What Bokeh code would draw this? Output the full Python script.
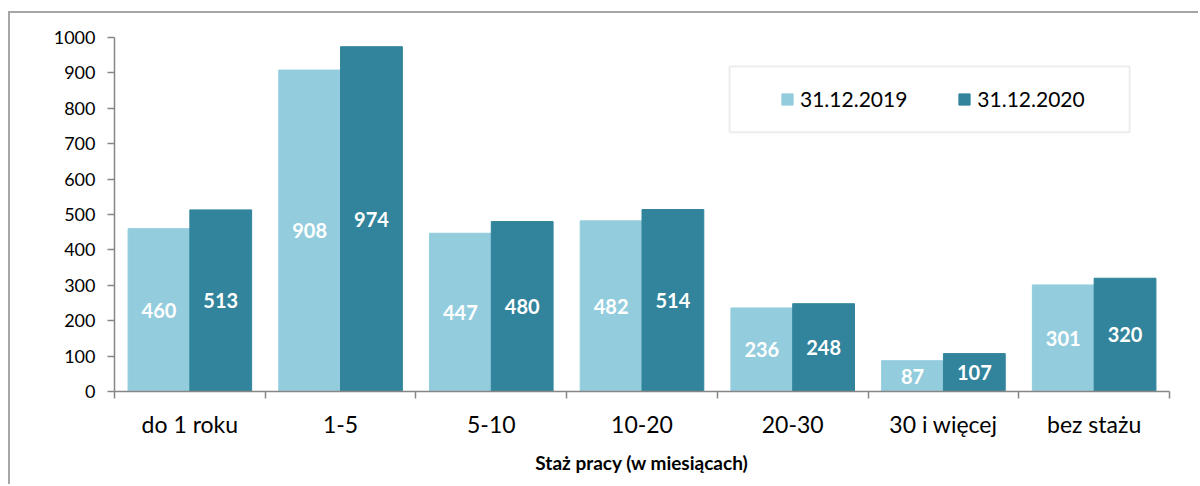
from bokeh.plotting import figure
from bokeh.models import (ColumnDataSource, FixedTicker, Legend, LegendItem,
                          BoxAnnotation, Range1d)
from bokeh.core.properties import value
from bokeh.embed import file_html
from bokeh.resources import INLINE

# ---- data ----
categories = ["do 1 roku", "1-5", "5-10", "10-20", "20-30", "30 i więcej", "bez stażu"]
series_names = ["31.12.2019", "31.12.2020"]
values_2019 = [460, 908, 447, 482, 236, 87, 301]
values_2020 = [513, 974, 480, 514, 248, 107, 320]
y_ticks = [0, 100, 200, 300, 400, 500, 600, 700, 800, 900, 1000]
x_title = "Staż pracy (w miesiącach)"

# ---- style ----
LIGHT = "#93CDDD"
DARK = "#31849B"
AXIS_C = "#868686"
FONT = "Lato"
BAR_W = 0.41

n = len(categories)
centers = [i + 0.5 for i in range(n)]
boundaries = [float(i) for i in range(n + 1)]

src19 = ColumnDataSource(dict(
    x=[c - BAR_W / 2 for c in centers], top=values_2019,
    mid=[v / 2 for v in values_2019], label=[str(v) for v in values_2019]))
src20 = ColumnDataSource(dict(
    x=[c + BAR_W / 2 for c in centers], top=values_2020,
    mid=[v / 2 for v in values_2020], label=[str(v) for v in values_2020]))

p = figure(width=1190, height=473, output_backend="svg", toolbar_location=None,
           x_range=Range1d(0, n), y_range=Range1d(0, 1000),
           min_border_left=104, min_border_right=31, min_border_top=24,
           min_border_bottom=95)
p.styles = {"margin-left": "8px", "margin-top": "11px",
            "border-left": "2px solid #A6A6A6", "border-top": "2px solid #A6A6A6"}
p.xgrid.visible = False
p.ygrid.visible = False
p.outline_line_color = None

r19 = p.vbar(x="x", top="top", width=BAR_W, bottom=0, source=src19,
             fill_color=LIGHT, line_color=LIGHT)
r20 = p.vbar(x="x", top="top", width=BAR_W, bottom=0, source=src20,
             fill_color=DARK, line_color=DARK)

for src in (src19, src20):
    p.text(x="x", y="mid", text="label", source=src, text_align="center",
           text_baseline="middle", text_color="white",
           text_font=value(FONT), text_font_style="bold", text_font_size="20px")

# y axis
ya = p.yaxis[0]
ya.ticker = FixedTicker(ticks=y_ticks)
ya.axis_line_color = AXIS_C
ya.axis_line_width = 1.5
ya.major_tick_line_color = AXIS_C
ya.major_tick_line_width = 1.5
ya.major_tick_out = 7
ya.major_tick_in = 0
ya.minor_tick_line_color = None
ya.major_label_standoff = 12
ya.major_label_text_font = FONT
ya.major_label_text_font_size = "18px"
ya.major_label_text_color = "#000000"

# x axis: labels at centers, ticks at category boundaries
xa = p.xaxis[0]
xa.ticker = FixedTicker(ticks=centers, minor_ticks=boundaries)
xa.major_label_overrides = {c: cat for c, cat in zip(centers, categories)}
xa.axis_line_color = AXIS_C
xa.axis_line_width = 1.5
xa.major_tick_line_color = None
xa.major_tick_out = 0
xa.major_tick_in = 0
xa.minor_tick_line_color = AXIS_C
xa.minor_tick_line_width = 1.5
xa.minor_tick_out = 7
xa.minor_tick_in = 0
xa.major_label_standoff = 11
xa.major_label_text_font = FONT
xa.major_label_text_font_size = "23px"
xa.major_label_text_color = "#000000"
xa.axis_label = x_title
xa.axis_label_text_font = FONT
xa.axis_label_text_font_size = "19px"
xa.axis_label_text_font_style = "bold"
xa.axis_label_text_color = "#000000"
xa.axis_label_standoff = 10

# legend box
p.add_layout(BoxAnnotation(left=4.081, right=6.735, bottom=732, top=918,
                           fill_alpha=0, line_color="#C4C4C4", line_width=2))

legend = Legend(items=[LegendItem(label=series_names[0], renderers=[r19]),
                       LegendItem(label=series_names[1], renderers=[r20])],
                orientation="horizontal", location=(666, 280),
                padding=0, margin=0, spacing=50, label_standoff=6,
                glyph_width=14, glyph_height=14,
                background_fill_alpha=0, border_line_color=None,
                label_text_font=FONT, label_text_font_size="21px",
                label_text_color="#000000")
p.add_layout(legend, "center")

open("out.html", "w").write(file_html(p, INLINE))
